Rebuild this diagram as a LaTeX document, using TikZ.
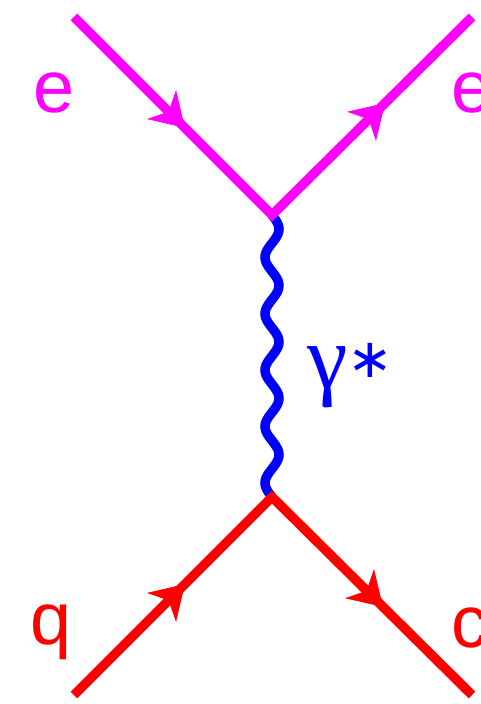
\documentclass[tikz,border=0pt]{standalone}
\usepackage{fontspec}
\setmainfont{Liberation Sans}
\newfontfamily\gammafont{Liberation Serif}
\newfontfamily\starfont{DejaVu Sans}
\usetikzlibrary{arrows.meta,decorations.markings}
\definecolor{lepton}{HTML}{FF00FF}
\definecolor{quark}{HTML}{FF0000}
\definecolor{photon}{HTML}{0000FF}
\tikzset{
  fermion/.style={line width=5.4pt},
  midarrow/.style={decoration={markings,mark=at position #1 with {\arrow{Stealth[length=0.66cm,width=0.82cm,inset=0.2cm]}}},postaction={decorate}},
  wavy/.style={line width=5.4pt,photon,smooth},
  particle/.style={anchor=base west,inner sep=0pt,font=\fontsize{42}{42}\selectfont}
}
\begin{document}
\begin{tikzpicture}
        \clip (0,0) rectangle (9.62,14.08);
        \path[use as bounding box] (0,0) rectangle (9.62,14.08);
        \coordinate (ein) at (1.48,13.74);
        \coordinate (eout) at (9.44,13.74);
        \coordinate (topv) at (5.44,9.78);
        \coordinate (botv) at (5.44,4.14);
        \coordinate (qin) at (1.48,0.18);
        \coordinate (qout) at (9.44,0.18);
        \draw[wavy,shift={(topv)}] plot[domain=0:5.64,samples=121] ({0.14*sin(\x*1800/5.64)},{-\x});
        \draw[fermion,lepton] (ein) -- (topv) -- (eout);
        \draw[fermion,quark] (qin) -- (botv) -- (qout);
        \path[lepton,midarrow=0.56] (ein) -- (topv);
        \path[lepton,midarrow=0.565] (topv) -- (eout);
        \path[quark,midarrow=0.56] (qin) -- (botv);
        \path[quark,midarrow=0.555] (botv) -- (qout);
        \node[particle,lepton] (elabin) at (0.66,11.82) {e};
        \node[particle,lepton] (elabout) at (9.02,11.82) {e};
        \node[particle,quark] (qlabin) at (0.6,1.18) {q};
        \node[particle,quark] (qlabout) at (9.02,1.14) {c};
        \node[particle,photon] (gamma) at (6.14,6.3) {{\gammafont\fontsize{52}{52}\selectfont γ}\raisebox{0.22cm}{\starfont\fontsize{31}{31}\selectfont ∗}};
\end{tikzpicture}
\end{document}
